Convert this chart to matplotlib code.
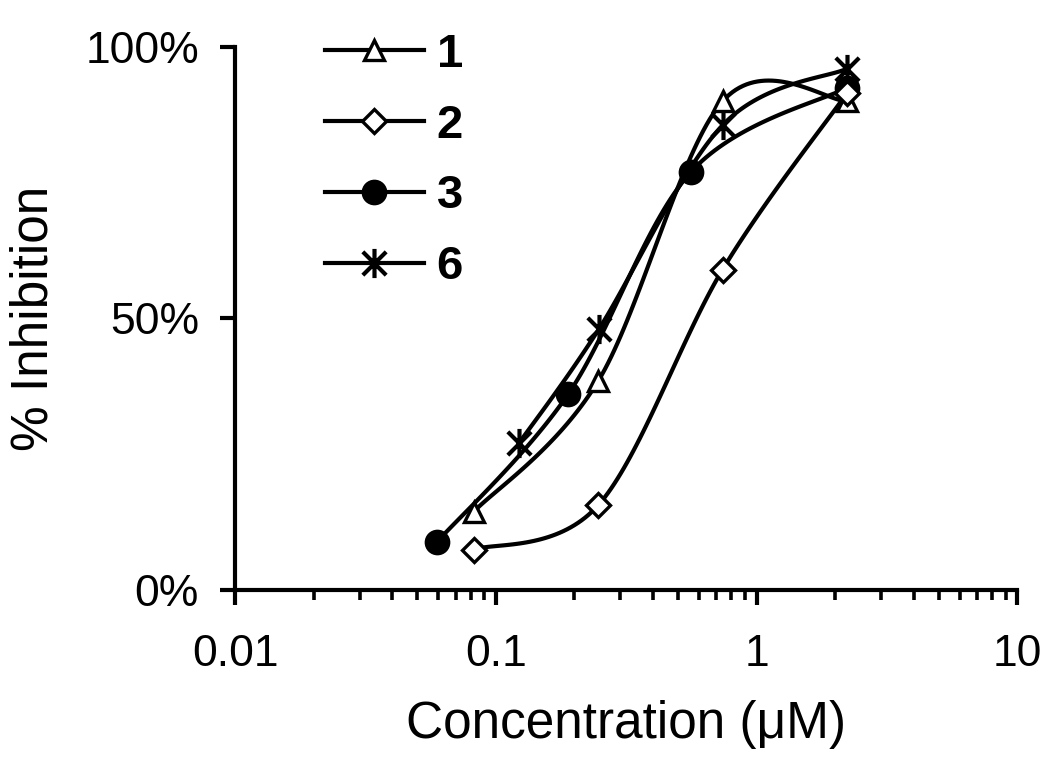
import numpy as np
import matplotlib
matplotlib.use("Agg")
import matplotlib.pyplot as plt
from matplotlib.path import Path
from matplotlib.ticker import FixedLocator, FixedFormatter, LogLocator, NullFormatter

plt.rcParams['font.family'] = ['Liberation Sans', 'DejaVu Sans']

# data (concentration in uM, inhibition in %)
x1 = [0.0823, 0.247, 0.74, 2.22]
y1 = [14.4, 38.5, 90.0, 90.0]
x2 = [0.0823, 0.247, 0.74, 2.22]
y2 = [7.4, 15.6, 59.0, 91.5]
x3 = [0.0594, 0.189, 0.56, 2.22]
y3 = [8.8, 36.0, 77.0, 92.5]
x6 = [0.1225, 0.248, 0.74, 2.22]
y6 = [27.0, 48.0, 85.6, 96.0]
labels = ['1', '2', '3', '6']

# asterisk marker like Excel's star
star = Path([(-1, -1), (1, 1), (-1, 1), (1, -1), (0, -1.25), (0, 1.25)],
            [Path.MOVETO, Path.LINETO, Path.MOVETO, Path.LINETO, Path.MOVETO, Path.LINETO])

# screen scale of the axes (px per decade, px per 100 %) so the smoothing looks like excel
SX, SY = 261.0, 543.0


def smooth(xs, ys, n=40):
    # bezier smoothing with tension 1/6 (excel style), done in screen space
    p = np.column_stack([np.log10(xs) * SX, np.array(ys) / 100.0 * SY])
    p = np.vstack([p[0], p, p[-1]])
    out = []
    t = np.linspace(0, 1, n)[:, None]
    for i in range(1, len(p) - 2):
        p0, p1, p2, p3 = p[i - 1], p[i], p[i + 1], p[i + 2]
        c1 = p1 + (p2 - p0) / 6.0
        c2 = p2 - (p3 - p1) / 6.0
        seg = (1 - t) ** 3 * p1 + 3 * (1 - t) ** 2 * t * c1 + 3 * (1 - t) * t ** 2 * c2 + t ** 3 * p2
        out.append(seg if i == 1 else seg[1:])
    out = np.vstack(out)
    return 10 ** (out[:, 0] / SX), out[:, 1] / SY * 100.0


fig = plt.figure(figsize=(10.5, 7.58), dpi=100)
ax = fig.add_axes([0.224, 0.222, 0.745, 0.716])

lw = 3.0
styles = [
    dict(marker='^', ms=15, mfc='white', mec='black', mew=2.4),
    dict(marker='D', ms=12, mfc='white', mec='black', mew=2.4),
    dict(marker='o', ms=17, mfc='black', mec='black', mew=1.5),
    dict(marker=star, ms=21, mfc='none', mec='black', mew=3.0),
]
mz = [3.2, 3.2, 3.0, 3.3]
series = [(x1, y1), (x2, y2), (x3, y3), (x6, y6)]
handles = []
for (xs, ys), st, lab, z in zip(series, styles, labels, mz):
    sx, sy = smooth(xs, ys)
    ax.plot(sx, sy, color='black', lw=lw, zorder=2)
    ax.plot(xs, ys, ls='none', zorder=z, **st)
    h, = ax.plot([], [], color='black', lw=lw, label=lab, **st)
    handles.append(h)

ax.set_xscale('log')
ax.set_xlim(0.01, 10)
ax.set_ylim(0, 100)

ax.xaxis.set_major_locator(FixedLocator([0.01, 0.1, 1, 10]))
ax.xaxis.set_major_formatter(FixedFormatter(['0.01', '0.1', '1', '10']))
ax.xaxis.set_minor_locator(LogLocator(base=10, subs=np.arange(2, 10)))
ax.xaxis.set_minor_formatter(NullFormatter())
ax.yaxis.set_major_locator(FixedLocator([0, 50, 100]))
ax.yaxis.set_major_formatter(FixedFormatter(['0%', '50%', '100%']))

for s in ['top', 'right']:
    ax.spines[s].set_visible(False)
for s in ['left', 'bottom']:
    ax.spines[s].set_linewidth(3.0)

ax.tick_params(axis='both', which='major', direction='out', width=3.0, labelsize=32, length=11)
ax.tick_params(axis='x', which='major', pad=21)
ax.tick_params(axis='y', which='major', pad=15)
ax.tick_params(axis='x', which='minor', direction='out', length=7.5, width=2.6)

ax.set_xlabel('Concentration (\u03bcM)', fontsize=37, labelpad=18)
ax.set_ylabel('% Inhibition', fontsize=37, labelpad=19)

leg = ax.legend(handles=handles, loc='upper left', bbox_to_anchor=(0.085, 1.07),
                frameon=False, prop={'size': 34, 'weight': 'bold'},
                handlelength=2.08, handletextpad=0.28, labelspacing=0.57, borderpad=0)

fig.savefig('out.png', dpi=100)
